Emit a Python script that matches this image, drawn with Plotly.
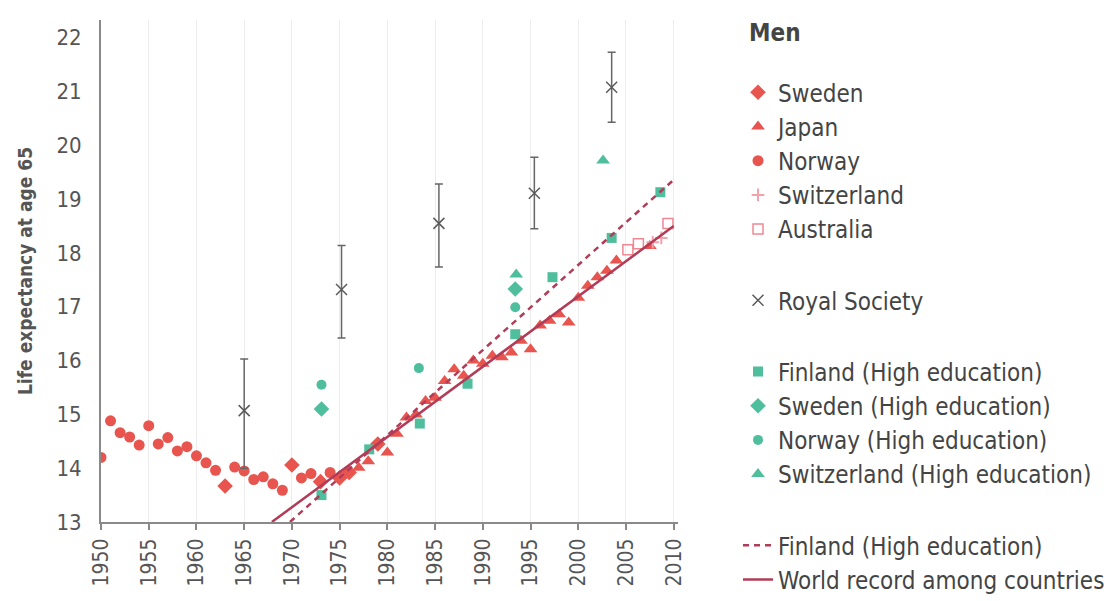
import plotly.graph_objects as go

# ---------------- data ----------------
norway_years = [1950, 1951, 1952, 1953, 1954, 1955, 1956, 1957, 1958, 1959, 1960, 1961,
                1962, 1964, 1965, 1966, 1967, 1968, 1969, 1971, 1972, 1974]
norway_vals = [14.20, 14.88, 14.66, 14.58, 14.43, 14.79, 14.45, 14.57, 14.32, 14.40, 14.23, 14.10,
               13.96, 14.02, 13.95, 13.79, 13.84, 13.71, 13.59, 13.82, 13.90, 13.92]

sweden_years = [1963, 1970, 1973, 1975, 1976, 1979]
sweden_vals = [13.67, 14.06, 13.75, 13.82, 13.92, 14.45]

japan_years = [1977, 1978, 1980, 1981, 1982, 1983, 1984, 1985, 1986, 1987, 1988, 1989,
               1990, 1991, 1992, 1993, 1994, 1995, 1996, 1997, 1998, 1999, 2000, 2001,
               2002, 2003, 2004, 2007.5]
japan_vals = [14.01, 14.13, 14.29, 14.64, 14.94, 15.00, 15.25, 15.31, 15.62, 15.84, 15.72, 16.00,
              15.94, 16.09, 16.06, 16.15, 16.37, 16.21, 16.65, 16.74, 16.86, 16.71, 17.17, 17.39,
              17.55, 17.67, 17.86, 18.13]

switz_years = [2007.8, 2008.7]
switz_vals = [18.20, 18.28]

australia_years = [2005.2, 2006.3, 2009.4]
australia_vals = [18.06, 18.17, 18.55]

royal_years = [1965.0, 1975.2, 1985.4, 1995.4, 2003.5]
royal_vals = [15.07, 17.32, 18.55, 19.11, 21.08]
royal_upper = [16.03, 18.14, 19.28, 19.78, 21.73]
royal_lower = [14.00, 16.42, 17.74, 18.45, 20.43]

fin_he_years = [1973.1, 1978.1, 1983.4, 1988.4, 1993.4, 1997.3, 2003.5, 2008.6]
fin_he_vals = [13.50, 14.35, 14.83, 15.57, 16.49, 17.55, 18.28, 19.13]

swe_he_years = [1973.1, 1993.4]
swe_he_vals = [15.10, 17.33]

nor_he_years = [1973.1, 1983.3, 1993.4]
nor_he_vals = [15.55, 15.86, 16.99]

swi_he_years = [1993.5, 2002.6]
swi_he_vals = [17.60, 19.72]

fin_trend_years = [1969.8, 2010.0]
fin_trend_vals = [13.0, 19.36]

record_years = [1967.9, 2010.0]
record_vals = [13.0, 18.50]

x_ticks = list(range(1950, 2011, 5))
y_ticks = list(range(13, 23))

# ---------------- styles ----------------
RED = "#E8544E"
TEAL = "#4FBE9C"
PINK = "#F2A2AA"
LINE = "#B23C57"
GREY = "#5a5a5a"
FONT = "DejaVu Sans Condensed, Open Sans, sans-serif"

fig = go.Figure()

def pts(x, y, name, symbol, color, size, group, line=None):
    m = dict(symbol=symbol, color=color, size=size)
    if line:
        m["line"] = line
    fig.add_trace(go.Scatter(x=x, y=y, mode="markers", name=name, marker=m,
                             legendgroup=group))

pts(sweden_years, sweden_vals, "Sweden", "diamond", RED, 12, "g1")
pts(japan_years, japan_vals, "Japan", "triangle-up", RED, 12, "g1")
pts(norway_years, norway_vals, "Norway", "circle", RED, 11, "g1")
pts(switz_years, switz_vals, "Switzerland", "cross-thin", PINK, 9, "g1",
    line=dict(color=PINK, width=2))
pts(australia_years, australia_vals, "Australia", "square-open", "#EE8892", 10, "g1",
    line=dict(color="#EE8892", width=1.5))

fig.add_trace(go.Scatter(
    x=royal_years, y=royal_vals, mode="markers", name="Royal Society",
    legendgroup="g2",
    marker=dict(symbol="x-thin", size=11, color=GREY, line=dict(color=GREY, width=1.5)),
    error_y=dict(type="data", symmetric=False,
                 array=[u - v for u, v in zip(royal_upper, royal_vals)],
                 arrayminus=[v - l for v, l in zip(royal_vals, royal_lower)],
                 color="#666666", thickness=1.5, width=4),
))

pts(fin_he_years, fin_he_vals, "Finland (High education)", "square", TEAL, 10, "g3")
pts(swe_he_years, swe_he_vals, "Sweden (High education)", "diamond", TEAL, 12, "g3")
pts(nor_he_years, nor_he_vals, "Norway (High education)", "circle", TEAL, 10, "g3")
pts(swi_he_years, swi_he_vals, "Switzerland (High education)", "triangle-up", TEAL, 12, "g3")

fig.add_trace(go.Scatter(x=fin_trend_years, y=fin_trend_vals, mode="lines",
                         name="Finland (High education)", legendgroup="g4",
                         line=dict(color=LINE, width=2.5, dash="6px,5px")))
fig.add_trace(go.Scatter(x=record_years, y=record_vals, mode="lines",
                         name="World record among countries", legendgroup="g4",
                         line=dict(color=LINE, width=2.5)))

fig.update_layout(
    width=1109, height=601,
    margin=dict(l=101, r=431, t=20, b=79, autoexpand=False),
    plot_bgcolor="white", paper_bgcolor="white",
    font=dict(family=FONT, color="#444444", size=22),
    showlegend=True,
    legend=dict(x=1.104, y=0.900, xanchor="left", yanchor="top",
                font=dict(family=FONT, size=24, color="#444444"),
                tracegroupgap=37, traceorder="grouped", maxheight=600,
                bgcolor="rgba(0,0,0,0)"),
    annotations=[dict(text="<b>Men</b>", x=1.12, y=1.006, xref="paper", yref="paper",
                      xanchor="left", yanchor="top", showarrow=False,
                      font=dict(family=FONT, size=24, color="#444444"))],
)

fig.update_xaxes(
    range=[1950, 2010.45], tickvals=x_ticks, ticktext=[str(t) for t in x_ticks],
    tickangle=-90, ticks="outside", ticklen=6, tickcolor="#888888", tickwidth=1.5,
    showline=True, linecolor="#8a8a8a", linewidth=2, automargin=False,
    showgrid=True, gridcolor="#ececec", gridwidth=1, zeroline=False,
    tickfont=dict(family=FONT, size=21, color="#555555"),
)
fig.update_yaxes(
    range=[13, 22.33], tickvals=y_ticks, ticktext=[str(t) for t in y_ticks],
    ticks="", showline=True, linecolor="#8a8a8a", linewidth=2, automargin=False,
    showgrid=False, zeroline=False, ticklabelstandoff=13,
    tickfont=dict(family=FONT, size=22, color="#555555"),
    title=dict(text="<b>Life expectancy at age 65</b>", standoff=19,
               font=dict(family=FONT, size=19, color="#555555")),
)

fig.write_html("out.html", config={"displayModeBar": False},
               post_script="document.body.style.margin='0';")
